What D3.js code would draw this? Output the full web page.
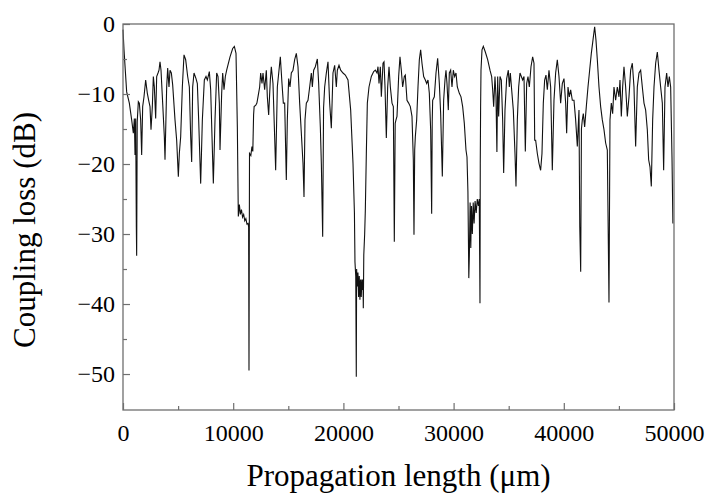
<!DOCTYPE html>
<html>
<head>
<meta charset="utf-8">
<script src="https://cdn.jsdelivr.net/npm/d3@7"></script>
<style>
  html, body { margin: 0; padding: 0; background: #fff; }
  svg { display: block; }
</style>
</head>
<body>
<svg id="chart" width="707" height="498"></svg>
<script>
// ---- data ----
const lengthUm = [
  0, 91, 333, 575, 787, 938, 1030, 1090, 1150, 1210, 1240, 1290, 1392, 1482, 1603, 1694, 1785, 1906, 2057, 2208,
  2330, 2450, 2541, 2662, 2753, 2844, 2965, 3056, 3177, 3267, 3358, 3449, 3600, 3751, 3812, 3963, 4054, 4174, 4266, 4387,
  4508, 4719, 4870, 5022, 5112, 5234, 5385, 5536, 5687, 5869, 6020, 6141, 6232, 6322, 6444, 6625, 6746, 6867, 7049, 7200,
  7381, 7532, 7654, 7835, 7956, 8077, 8198, 8349, 8500, 8622, 8742, 8803, 8954, 9045, 9166, 9287, 9408, 9711, 9953, 10104,
  10255, 10376, 10465, 10560, 10650, 10750, 10850, 10950, 11050, 11150, 11250, 11350, 11400, 11433, 11480, 11600, 11700, 11780, 11850, 11900,
  12050, 12150, 12250, 12401, 12492, 12613, 12704, 12855, 13006, 13097, 13218, 13369, 13460, 13611, 13762, 13853, 14005, 14156, 14277, 14428,
  14549, 14670, 14821, 14912, 15033, 15154, 15275, 15426, 15578, 15729, 15880, 16031, 16183, 16334, 16425, 16515, 16636, 16788, 16939, 17090,
  17181, 17302, 17453, 17635, 17756, 17907, 18000, 18120, 18200, 18300, 18451, 18602, 18754, 18905, 19056, 19207, 19359, 19450, 19601, 19752,
  19964, 20176, 20417, 20660, 20871, 21000, 21050, 21120, 21170, 21200, 21260, 21320, 21380, 21440, 21500, 21560, 21620, 21680, 21740, 21780,
  21806, 21850, 21930, 21990, 22081, 22172, 22323, 22535, 22747, 22898, 23049, 23140, 23231, 23352, 23443, 23594, 23685, 23776, 23896, 24017,
  24139, 24260, 24411, 24532, 24620, 24700, 24773, 24863, 25014, 25135, 25256, 25377, 25528, 25619, 25770, 25921, 26073, 26224, 26345, 26405,
  26470, 26527, 26648, 26769, 26890, 27010, 27131, 27283, 27434, 27555, 27676, 27797, 27918, 28010, 28060, 28100, 28251, 28403, 28553, 28705,
  28826, 28977, 29097, 29218, 29309, 29400, 29521, 29612, 29733, 29854, 29975, 30095, 30217, 30338, 30520, 30671, 30822, 30973, 31124, 31215,
  31300, 31340, 31380, 31430, 31500, 31560, 31620, 31700, 31780, 31860, 31950, 32050, 32150, 32250, 32330, 32394, 32420, 32450, 32486, 32577,
  32698, 32879, 33091, 33302, 33454, 33545, 33636, 33756, 33847, 33930, 33999, 34089, 34210, 34331, 34452, 34543, 34663, 34815, 34966, 35057,
  35148, 35269, 35420, 35571, 35662, 35783, 35904, 36025, 36146, 36267, 36388, 36509, 36630, 36751, 36872, 37023, 37174, 37295, 37360, 37445,
  37597, 37748, 37899, 38020, 38141, 38262, 38383, 38504, 38655, 38807, 38958, 39109, 39260, 39412, 39563, 39714, 39865, 40017, 40168, 40259,
  40380, 40501, 40622, 40773, 40924, 41075, 41227, 41378, 41450, 41532, 41600, 41680, 41771, 41892, 42043, 42195, 42345, 42497, 42648, 42800,
  42920, 43042, 43193, 43344, 43495, 43647, 43798, 43949, 44100, 44191, 44312, 44433, 44554, 44705, 44856, 45008, 45099, 45220, 45340, 45461,
  45612, 45764, 45915, 46066, 46218, 46369, 46520, 46671, 46823, 46974, 47125, 47277, 47428, 47579, 47700, 47821, 47942, 48063, 48185, 48336,
  48487, 48638, 48789, 48941, 49061, 49183, 49334, 49455, 49576, 49697, 49818, 49900
];
const couplingLossDb = [
  -0.8, -3.7, -9.7, -11.3, -13.7, -15.6, -13.5, -18.7, -13.5, -29, -33.1, -14, -11.1, -11.3, -13.7, -18.7, -11.8, -10.4, -8.0, -9.9,
  -10.9, -11.8, -15.1, -11.8, -7.5, -9.0, -13.5, -7.5, -7.0, -6.6, -5.4, -6.6, -11.3, -16.1, -19.4, -9.0, -6.3, -9.0, -6.6, -7.0,
  -8.7, -13.7, -16.6, -21.8, -18.5, -16.1, -9.0, -4.4, -5.1, -7.5, -9.0, -16.1, -19.7, -9.0, -7.0, -7.8, -8.5, -13.7, -22.8, -13.7,
  -8.0, -7.5, -8.0, -6.8, -9.4, -16.1, -22.8, -13.7, -7.0, -7.5, -11.3, -18.0, -9.9, -7.0, -9.4, -7.5, -6.6, -4.7, -3.5, -3.2,
  -4.2, -14.7, -27.5, -25.8, -27.2, -26.5, -27.6, -27.2, -28.1, -27.8, -28.6, -28.5, -29.0, -49.5, -18.5, -18.8, -17.5, -18.2, -13.0, -11.8,
  -11.6, -11.3, -10.4, -9.0, -7.0, -8.5, -7.0, -9.4, -6.6, -10.4, -13.0, -8.0, -6.1, -8.5, -16.1, -20.9, -9.0, -6.6, -4.7, -8.5,
  -11.3, -11.3, -22.3, -13.7, -7.8, -9.0, -7.0, -6.6, -5.1, -4.2, -6.1, -11.3, -15.6, -19.9, -24.7, -13.7, -11.3, -10.9, -9.0, -7.0,
  -9.0, -6.6, -6.1, -5.0, -8.5, -14.7, -20.0, -30.4, -12.0, -9.0, -7.0, -5.4, -11.3, -14.9, -7.0, -5.9, -9.0, -6.6, -5.9, -6.6,
  -7.0, -7.3, -8.0, -12.3, -19.9, -27.0, -34.0, -36.0, -50.4, -35.0, -37.5, -35.5, -39.0, -36.0, -39.4, -36.5, -39.0, -36.5, -38.0, -36.5,
  -40.6, -33.0, -30.0, -26.6, -18.5, -11.3, -9.0, -7.5, -6.8, -6.6, -7.0, -6.1, -8.5, -6.1, -10.4, -5.6, -5.4, -9.0, -16.3, -9.0,
  -6.1, -9.0, -11.3, -11.8, -31.1, -14.2, -13.7, -13.2, -7.5, -4.7, -6.6, -9.0, -7.5, -7.3, -10.9, -11.3, -11.8, -13.2, -19.4, -30.1,
  -18.0, -16.1, -13.7, -9.0, -5.1, -3.7, -5.6, -7.5, -8.0, -8.5, -8.0, -9.9, -15.1, -27.1, -14.0, -10.9, -10.4, -7.0, -4.9, -8.5,
  -12.8, -21.8, -10.9, -8.0, -6.6, -8.5, -12.3, -7.0, -6.6, -9.0, -6.6, -7.5, -7.0, -9.0, -9.9, -10.4, -11.8, -14.2, -18.0, -19.0,
  -24.0, -30.0, -36.3, -33.0, -25.5, -32.0, -26.0, -30.0, -25.5, -28.5, -25.3, -27.0, -25.0, -26.0, -25.0, -39.9, -20.0, -12.0, -6.6, -3.7,
  -3.2, -4.0, -5.1, -6.6, -7.5, -9.4, -11.8, -7.5, -10.4, -18.3, -7.5, -13.2, -7.5, -8.0, -13.7, -21.3, -12.3, -7.8, -6.6, -9.0,
  -7.0, -9.4, -12.3, -18.5, -23.2, -13.7, -9.0, -7.0, -7.5, -8.0, -7.5, -18.2, -8.5, -7.5, -9.0, -6.1, -4.7, -5.6, -16.6, -16.6,
  -18.5, -19.9, -20.9, -18.5, -11.3, -8.0, -7.3, -9.4, -6.6, -9.0, -20.9, -10.9, -7.0, -5.1, -7.5, -11.3, -8.5, -7.8, -11.3, -15.6,
  -9.0, -10.4, -9.4, -10.9, -10.9, -13.7, -17.5, -12.3, -29.0, -35.4, -15.0, -13.7, -12.8, -14.7, -11.8, -9.0, -6.6, -4.2, -2.3, -0.4,
  -2.3, -5.1, -9.0, -11.8, -13.7, -15.1, -17.0, -18.0, -39.8, -13.7, -11.3, -12.8, -9.0, -10.9, -9.0, -10.4, -8.0, -13.2, -9.0, -6.1,
  -9.0, -13.2, -10.4, -6.6, -5.6, -9.0, -17.5, -9.0, -7.0, -6.6, -9.0, -11.3, -12.3, -15.1, -19.4, -20.4, -23.2, -13.7, -9.0, -5.6,
  -4.0, -6.6, -9.0, -11.3, -20.9, -9.0, -7.0, -9.0, -7.5, -9.0, -19.0, -28.5
];
const xMajorTicks = [0, 10000, 20000, 30000, 40000, 50000];
const xMinorTicks = [5000, 15000, 25000, 35000, 45000];
const yMajorTicks = [0, -10, -20, -30, -40, -50];
const yMinorTicks = [-5, -15, -25, -35, -45];
const xTitle = "Propagation length (\u03bcm)";
const yTitle = "Coupling loss (dB)";

// ---- layout ----
const svg = d3.select("#chart");
const L = 123, R = 674, T = 24, B = 410;
const font = "'Liberation Serif', 'Times New Roman', serif";
const axisColor = "#6f6f6f";

const x = d3.scaleLinear().domain([0, 50000]).range([L, R]);
const y = d3.scaleLinear().domain([-55.14, 0]).range([B, T]);

const data = lengthUm.map((d, i) => [d, couplingLossDb[i]]);

// curve
svg.append("path")
  .datum(data)
  .attr("fill", "none")
  .attr("stroke", "#111")
  .attr("stroke-width", 1.1)
  .attr("stroke-linejoin", "miter")
  .attr("d", d3.line().x(d => x(d[0])).y(d => y(d[1])));

// frame
svg.append("rect")
  .attr("x", L).attr("y", T)
  .attr("width", R - L).attr("height", B - T)
  .attr("fill", "none")
  .attr("stroke", axisColor)
  .attr("stroke-width", 1.3);

function styleAxis(g) {
  g.select(".domain").remove();
  g.selectAll(".tick line").attr("stroke", axisColor).attr("stroke-width", 1.2);
  g.selectAll(".tick text").attr("fill", "#000").style("font-family", font).style("font-size", "24px");
}

// x axis major
svg.append("g").attr("transform", `translate(0,${B})`)
  .call(d3.axisBottom(x).tickValues(xMajorTicks).tickSize(-7).tickPadding(14).tickFormat(d3.format("d")))
  .call(styleAxis);
// x axis minor
svg.append("g").attr("transform", `translate(0,${B})`)
  .call(d3.axisBottom(x).tickValues(xMinorTicks).tickSize(-4).tickFormat(""))
  .call(styleAxis);

// y axis major
svg.append("g").attr("transform", `translate(${L},0)`)
  .call(d3.axisLeft(y).tickValues(yMajorTicks).tickSize(-7).tickPadding(8).tickFormat(d3.format("d")))
  .call(styleAxis);
// y axis minor
svg.append("g").attr("transform", `translate(${L},0)`)
  .call(d3.axisLeft(y).tickValues(yMinorTicks).tickSize(-4).tickFormat(""))
  .call(styleAxis);

// axis titles
svg.append("text")
  .attr("x", (L + R) / 2).attr("y", 486)
  .attr("text-anchor", "middle")
  .style("font-family", font).style("font-size", "31px")
  .text(xTitle);

svg.append("text")
  .attr("transform", `translate(35,230) rotate(-90)`)
  .attr("text-anchor", "middle")
  .style("font-family", font).style("font-size", "31px")
  .text(yTitle);
</script>
</body>
</html>
